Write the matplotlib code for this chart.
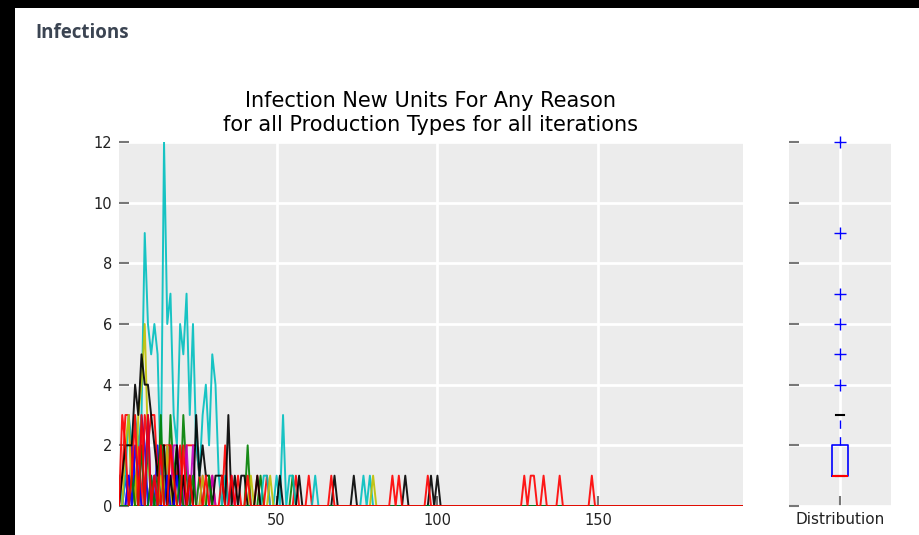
import numpy as np
import matplotlib.pyplot as plt
from matplotlib.patches import Rectangle

# days of the simulation
days = np.arange(1, 196)

# new infected units per day for each iteration (only non-zero days listed)
iter_1 = {3: 1, 5: 2, 6: 1, 8: 3, 9: 2, 11: 1, 13: 2, 15: 1, 17: 1, 21: 1}
iter_2 = {6: 1, 10: 2, 13: 1, 15: 2, 17: 3, 18: 1, 19: 2, 21: 3, 22: 1, 26: 1, 41: 2, 45: 1, 55: 1}
iter_3 = {2: 1, 3: 3, 4: 3, 5: 1, 7: 2, 9: 3, 10: 2, 11: 3, 12: 3, 13: 1, 15: 2, 16: 2,
          17: 2, 19: 1, 20: 2, 22: 2, 23: 2, 24: 2, 25: 2, 26: 1, 30: 1, 34: 2, 38: 1,
          44: 1, 47: 1, 56: 1, 60: 1}
iter_4 = {1: 1, 3: 1, 4: 3, 5: 2, 6: 3, 7: 2, 8: 3, 9: 9, 10: 6, 11: 5, 12: 6, 13: 5,
          14: 1, 15: 12, 16: 6, 17: 7, 18: 3, 19: 2, 20: 6, 21: 5, 22: 7, 23: 3, 24: 6,
          25: 2, 26: 1, 27: 3, 28: 4, 29: 2, 30: 5, 31: 4, 32: 1, 34: 1, 46: 1, 47: 1,
          50: 1, 52: 3, 54: 1, 55: 1, 62: 1, 77: 1, 79: 1}
iter_5 = {4: 1, 8: 2, 12: 1, 14: 2, 16: 2, 18: 2, 19: 2, 20: 1, 22: 2, 24: 2, 27: 1, 30: 1, 36: 1}
iter_6 = {3: 2, 4: 3, 7: 3, 8: 4, 9: 6, 10: 2, 12: 1, 14: 1, 16: 2, 18: 1, 23: 1, 27: 1,
          42: 1, 48: 1, 80: 1}
iter_7 = {2: 1, 3: 2, 4: 2, 5: 2, 6: 4, 7: 3, 8: 5, 9: 4, 10: 4, 11: 3, 12: 2, 13: 1,
          14: 2, 15: 2, 17: 1, 19: 2, 21: 1, 23: 1, 25: 3, 26: 1, 27: 2, 28: 1, 29: 1,
          31: 1, 32: 1, 33: 1, 35: 3, 37: 1, 39: 1, 40: 1, 44: 1, 51: 1, 57: 1, 68: 1,
          74: 1, 90: 1, 98: 1, 100: 1}
iter_8 = {4: 1, 6: 2, 7: 1, 10: 3, 12: 1, 16: 1, 19: 1}
iter_9 = {5: 1, 8: 2, 11: 1, 14: 3, 20: 1, 24: 1, 29: 1}
iter_10 = {2: 3, 3: 2, 5: 1, 6: 3, 8: 3, 10: 3, 12: 1, 14: 2, 17: 2, 18: 1, 21: 2, 23: 1,
           28: 1, 33: 1, 36: 1, 41: 1, 67: 1, 86: 1, 88: 1, 97: 1, 127: 1, 129: 1, 130: 1,
           133: 1, 138: 1, 148: 1}
iterations = [iter_1, iter_2, iter_3, iter_4, iter_5, iter_6, iter_7, iter_8, iter_9, iter_10]
colors = ['b', 'g', 'r', 'c', 'm', 'y', 'k', 'b', 'g', 'r']

# values shown in the distribution box
dist_values = [1] * 60 + [2] * 25 + [3] * 8 + [4, 5, 6, 7, 9, 12]

fig = plt.figure(figsize=(9.2, 5.35), dpi=100)
fig.patch.set_facecolor('black')
panel = Rectangle((15 / 920, 0), 1, 527 / 535, transform=fig.transFigure,
                  facecolor='white', edgecolor='none', zorder=-10)
fig.add_artist(panel)
fig.text(35 / 920, 1 - 33 / 535, 'Infections', fontsize=13.5, fontweight='bold',
         family='Open Sans', color='#3b4452', va='center', ha='left')

ax = fig.add_axes([119 / 920, 1 - 506 / 535, 624 / 920, 364 / 535])
ax2 = fig.add_axes([789 / 920, 1 - 506 / 535, 102 / 920, 364 / 535])

for a in (ax, ax2):
    a.set_facecolor('#ececec')
    for s in a.spines.values():
        s.set_visible(False)
    a.grid(True, color='white', linewidth=2)
    a.set_axisbelow(True)
    a.tick_params(direction='in', length=7, width=1.5, color='#777777',
                  labelsize=10.5, labelcolor='#222222', pad=5, right=False, top=False)

for it, col in zip(iterations, colors):
    vals = np.zeros(len(days))
    for d, v in it.items():
        vals[d - 1] = v
    ax.plot(days, vals, color=col, linewidth=1.4, alpha=0.9)

ax.set_xlim(days[0], days[-1])
ax.set_ylim(0, 12)
ax.set_xticks([50, 100, 150])
ax.set_yticks(range(0, 13, 2))
ax.set_title('Infection New Units For Any Reason\nfor all Production Types for all iterations',
             fontsize=15, pad=8, linespacing=1.25)

ax2.boxplot(dist_values, widths=0.155,
            boxprops=dict(color='b', linewidth=1.2),
            whiskerprops=dict(color='b', linestyle=(0, (6, 6)), linewidth=1),
            capprops=dict(color='k', linewidth=1.5),
            medianprops=dict(color='r', linewidth=1.5),
            flierprops=dict(marker='+', markeredgecolor='b', markersize=8))
ax2.set_ylim(0, 12)
ax2.set_yticks(range(0, 13, 2))
ax2.set_yticklabels([])
ax2.set_xticks([1])
ax2.set_xticklabels(['Distribution'])
ax2.tick_params(axis='x', labelsize=11, pad=4)
for fl in ax2.lines:
    fl.set_clip_on(False)

fig.savefig('out.png', dpi=100, facecolor=fig.get_facecolor())
